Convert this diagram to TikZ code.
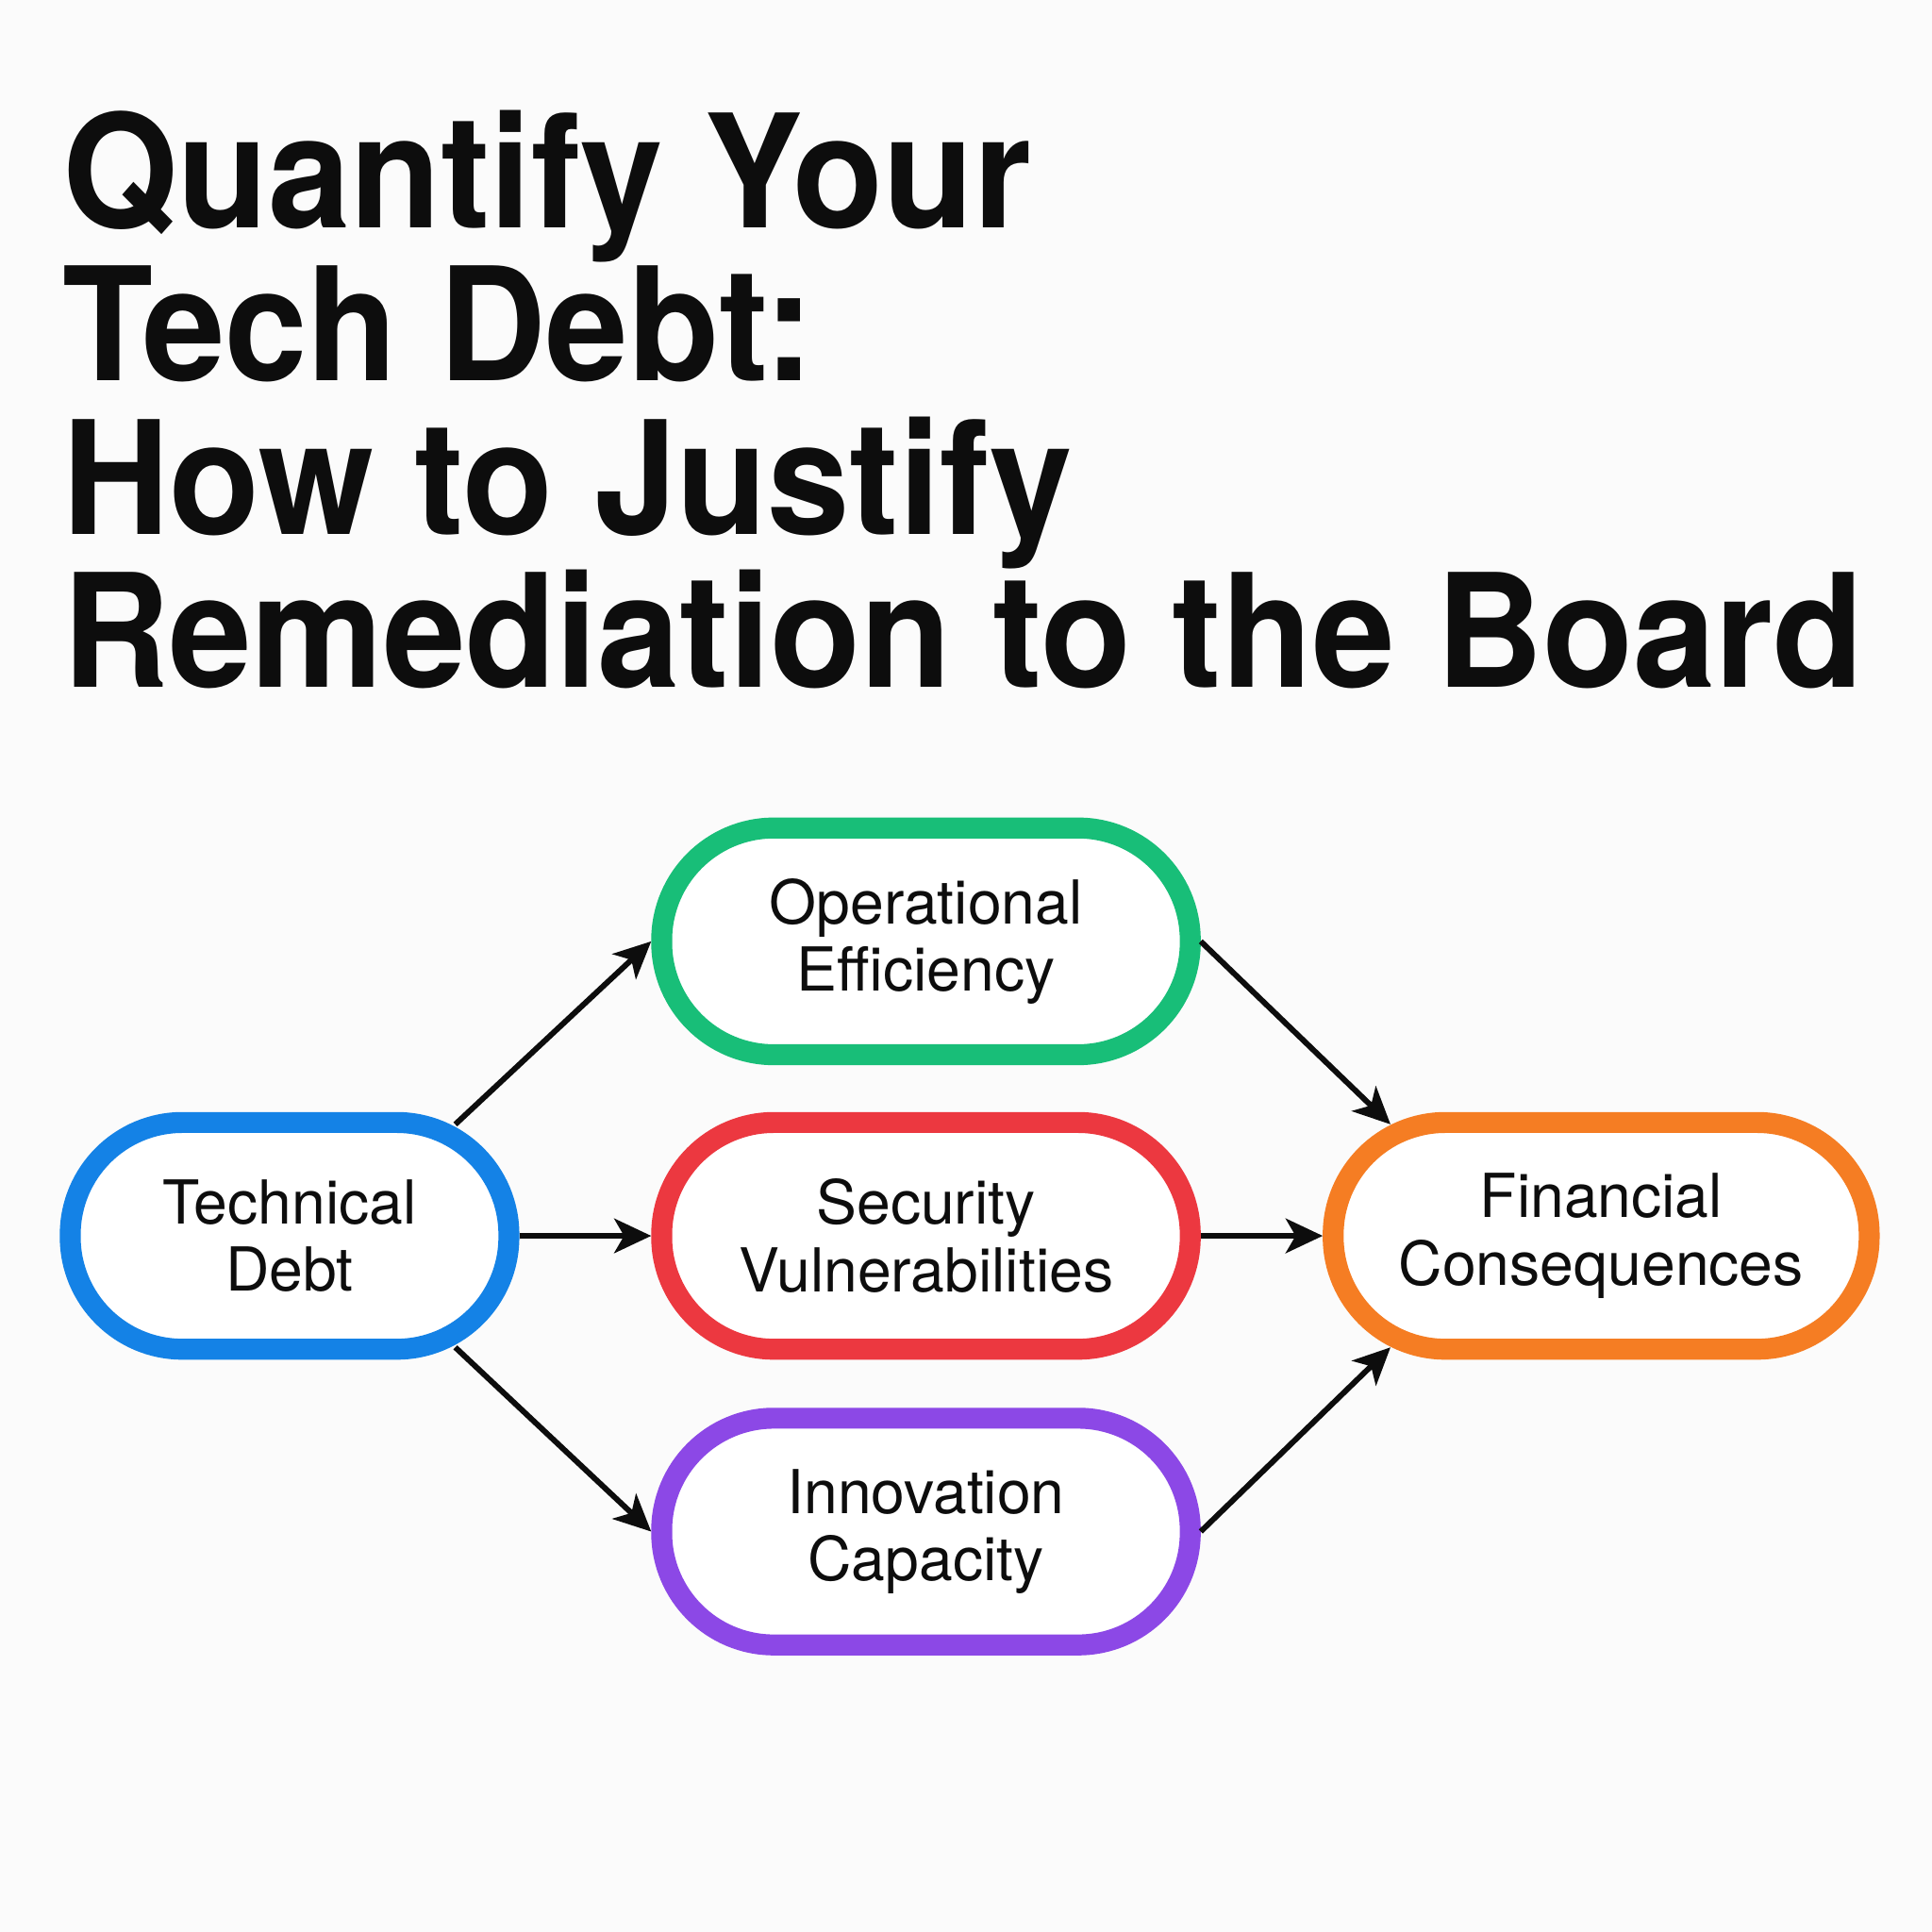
\documentclass[tikz,border=0pt]{standalone}
\usepackage{fontspec}
\setmainfont{TeX Gyre Heros}
\usetikzlibrary{arrows.meta}
\definecolor{bgcol}{HTML}{FBFBFB}
\definecolor{tdblue}{HTML}{1482E6}
\definecolor{oegreen}{HTML}{18BE78}
\definecolor{svred}{HTML}{EC3840}
\definecolor{icpurple}{HTML}{8C48E6}
\definecolor{fcorange}{HTML}{F57D23}
\tikzset{
    pill/.style={draw, line width=0.17cm, fill=white, rounded corners=0.91cm,
        minimum height=1.84cm, align=center, inner sep=0pt,
        font=\fontsize{14pt}{15.6pt}\selectfont, text=black!95},
    arr/.style={draw=black!95, line width=1.3pt,
        -{Stealth[length=0.3cm,width=0.28cm,inset=0.08cm]}}
}
\begin{document}
\begin{tikzpicture}
    \fill[bgcol] (0,0) rectangle (15.68,-15.68);
    \useasboundingbox (0,0) rectangle (15.68,-15.68);

    \foreach \txt [count=\i] in {Quantify Your, Tech Debt:, How to Justify, Remediation to the Board}
        {\node[anchor=base west, inner sep=0pt, xscale=0.94, text=black!95,
            font=\fontsize{36.4pt}{36pt}\selectfont\bfseries] (title\i) at (0.5,{-1.85-(\i-1)*1.243}) {\txt};}

    \node[pill, draw=tdblue, minimum width=3.56cm] (td) at (2.35,-10.03) {Technical\\Debt};
    \node[pill, draw=oegreen, minimum width=4.29cm] (oe) at (7.515,-7.64) {Operational\\Efficiency};
    \node[pill, draw=svred, minimum width=4.29cm] (sv) at (7.515,-10.03) {Security\\Vulnerabilities};
    \node[pill, draw=icpurple, minimum width=4.29cm] (ic) at (7.515,-12.43) {Innovation\\Capacity};
    \node[pill, draw=fcorange, minimum width=4.35cm] (fc) at (12.995,-10.03) {Financial\\Consequences};

    \draw[arr] ([xshift=-0.52cm,yshift=-0.1cm]td.north east) -- (oe.west);
    \draw[arr] (td.east) -- (sv.west);
    \draw[arr] ([xshift=-0.52cm,yshift=0.1cm]td.south east) -- (ic.west);
    \draw[arr] (oe.east) -- ([xshift=0.55cm,yshift=-0.1cm]fc.north west);
    \draw[arr] (sv.east) -- (fc.west);
    \draw[arr] (ic.east) -- ([xshift=0.55cm,yshift=0.1cm]fc.south west);
\end{tikzpicture}
\end{document}
